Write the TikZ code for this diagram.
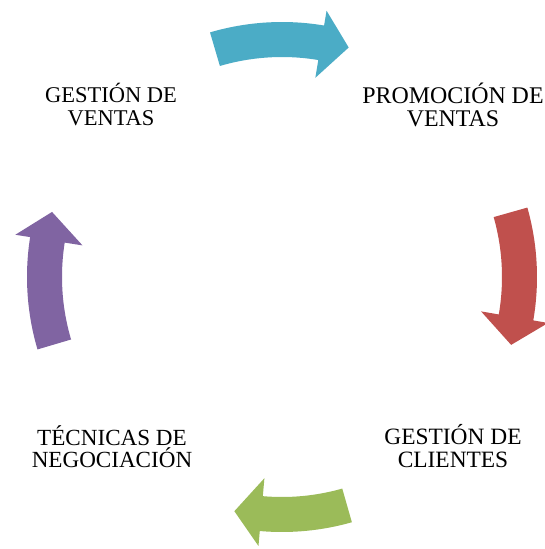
\documentclass[tikz,border=0pt]{standalone}
\usepackage{fontspec}
\setmainfont{Liberation Serif}
\definecolor{cteal}{HTML}{4BACC6}
\definecolor{cred}{HTML}{C0504D}
\definecolor{cgreen}{HTML}{9BBB59}
\definecolor{cpurple}{HTML}{8064A2}
\newcommand\cyclearrow[5]{%
  \fill[#1] (#2+#3:220) arc[start angle=#2+#3, end angle=#2+#4, radius=220]
    -- (#2+#4:202) -- (#2+#5:239) -- (#2+#4:270) -- (#2+#4:255)
    arc[start angle=#2+#4, end angle=#2+#3, radius=255] -- cycle;}
\begin{document}
\begin{tikzpicture}[x=1pt,y=1pt,
  lbl/.style={align=center, anchor=base, inner sep=0pt}]
\useasboundingbox[fill=white] (0,0) rectangle (545,-549);
\coordinate (C) at (282,-277);
\begin{scope}[shift={(C)}]
  \cyclearrow{cteal}{90}{16.4}{-9.5}{-16.2}
  \cyclearrow{cred}{0}{15.8}{-9.8}{-16.5}
  \cyclearrow{cgreen}{-90}{15.9}{-5}{-11.5}
  \cyclearrow{cpurple}{180}{16.5}{-9}{-15.8}
\end{scope}
\node[lbl, font=\fontsize{22.5}{23}\selectfont] (gv) at (111,-125.7) {GESTIÓN DE\\VENTAS};
\node[lbl, font=\fontsize{23.9}{23}\selectfont] (pv) at (453,-126.5) {PROMOCIÓN DE\\VENTAS};
\node[lbl, font=\fontsize{23.4}{23}\selectfont] (gc) at (453,-467.5) {GESTIÓN DE\\CLIENTES};
\node[lbl, font=\fontsize{23.1}{22.5}\selectfont] (tn) at (112,-467.5) {TÉCNICAS DE\\NEGOCIACIÓN};
\end{tikzpicture}
\end{document}
